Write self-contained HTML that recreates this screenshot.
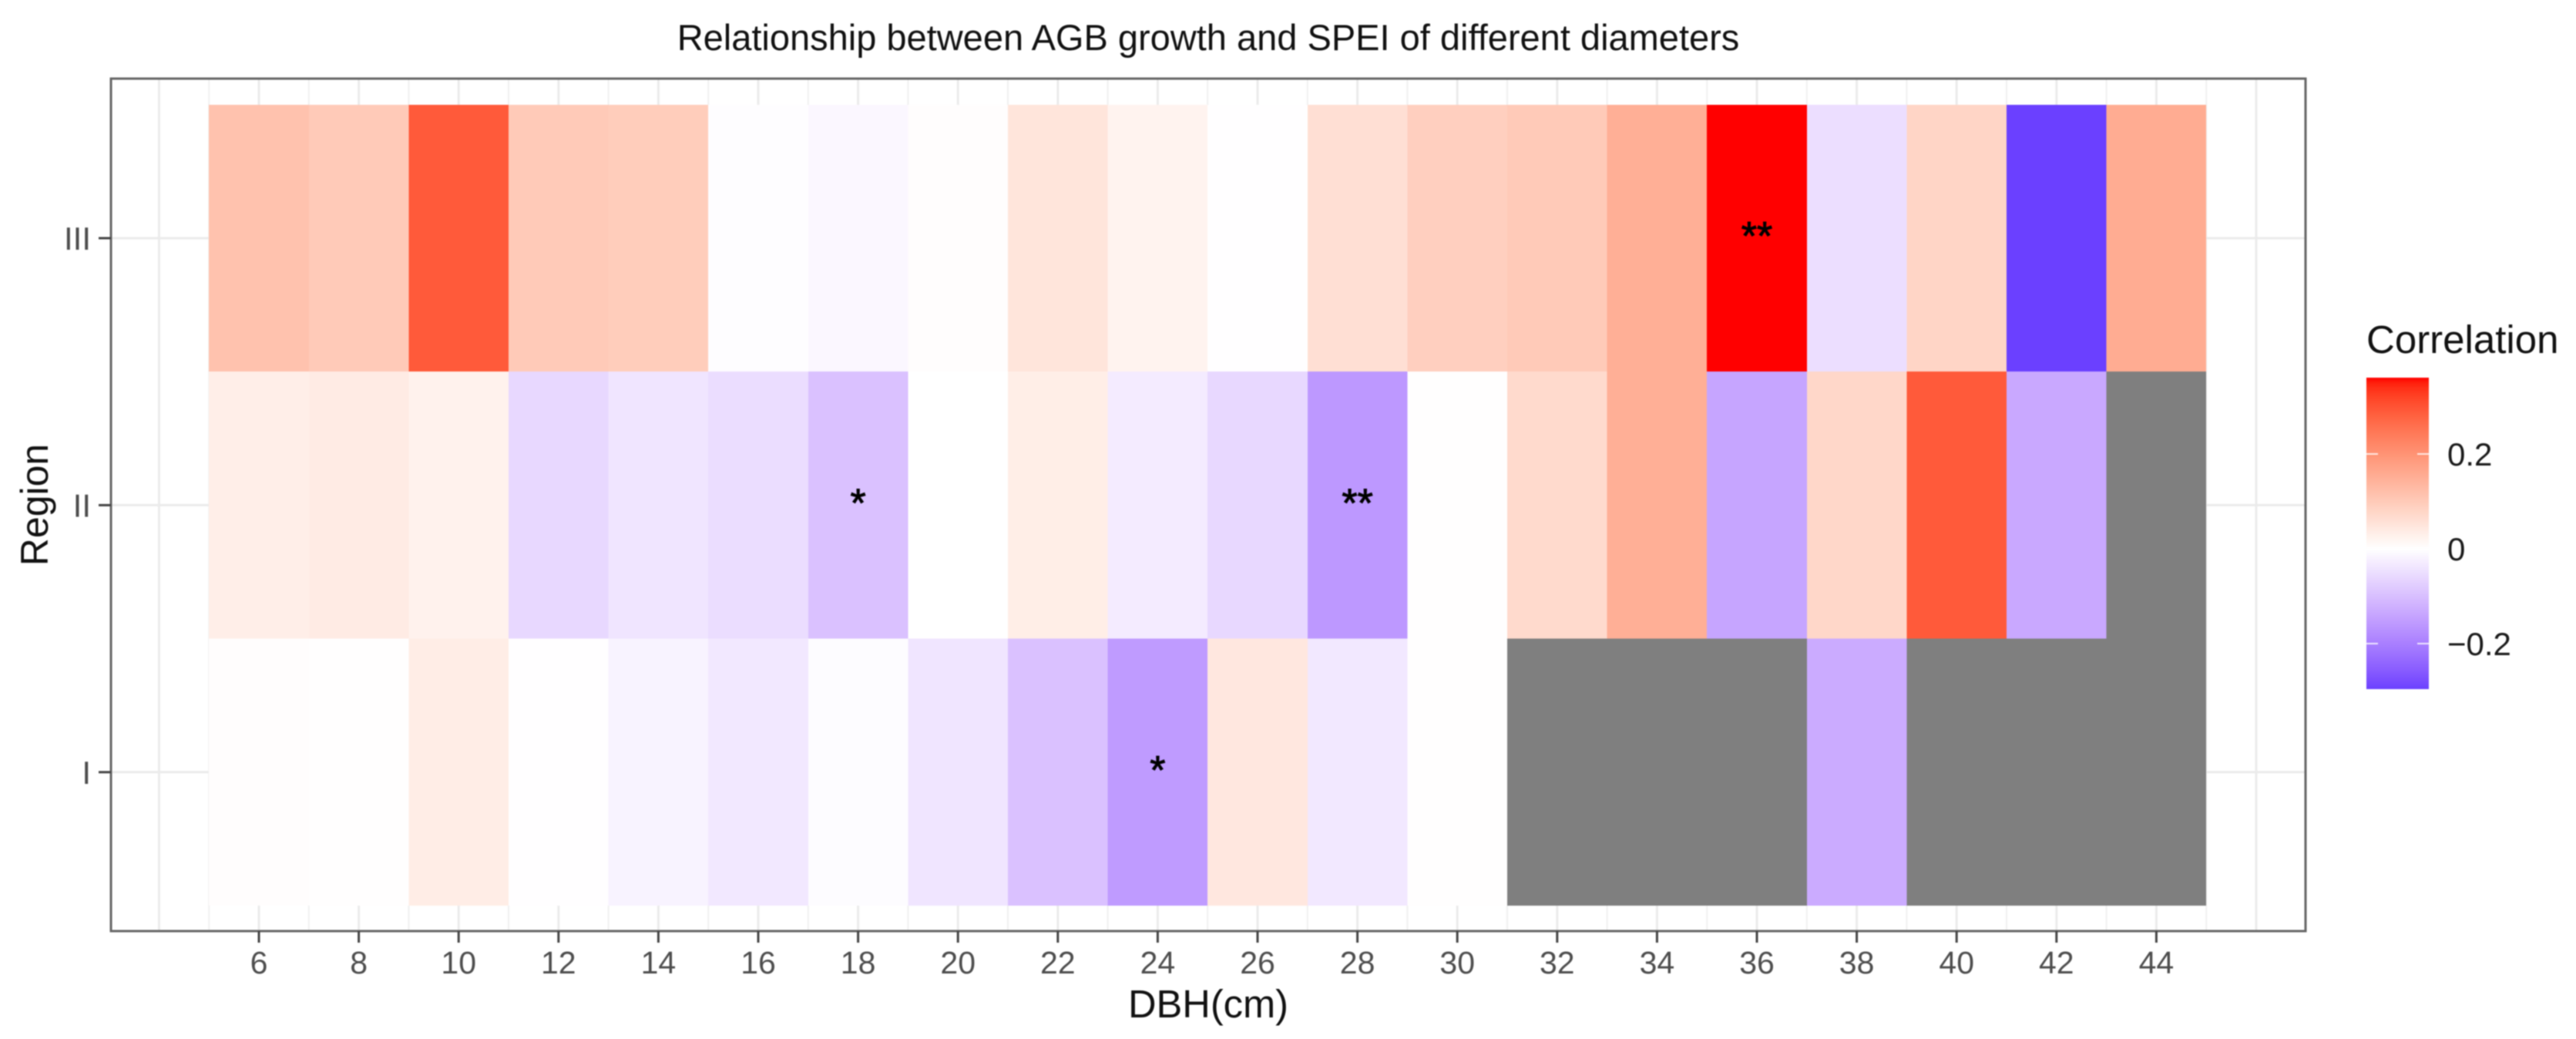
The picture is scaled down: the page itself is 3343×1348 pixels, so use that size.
<!DOCTYPE html>
<html lang="en">
<head>
<meta charset="utf-8">
<title>Relationship between AGB growth and SPEI of different diameters</title>
<style>
html,body{margin:0;padding:0;background:#fff;width:3343px;height:1348px;overflow:hidden}
svg{display:block;filter:blur(0.9px)}
text{font-family:"Liberation Sans",Arial,sans-serif}
</style>
</head>
<body>
<svg id="chart" xmlns="http://www.w3.org/2000/svg" width="3343" height="1348" viewBox="0 0 3343 1348">
  <rect x="0" y="0" width="3343" height="1348" fill="#ffffff"/>
  <text x="1568" y="65" font-size="47" text-anchor="middle" fill="#111">Relationship between AGB growth and SPEI of different diameters</text>
  <g id="grid"></g>
  <g id="cells" shape-rendering="crispEdges"></g>
  <g id="stars"></g>
  <rect x="144" y="102" width="2848" height="1106" fill="none" stroke="#666666" stroke-width="3"/>
  <g id="xaxis"></g>
  <g id="yaxis"></g>
  <text x="1568" y="1320" font-size="50.6" text-anchor="middle" fill="#111">DBH(cm)</text>
  <text transform="translate(62,655) rotate(-90)" font-size="50" text-anchor="middle" fill="#111">Region</text>
  <text x="3071" y="458" font-size="51" fill="#111">Correlation</text>
  <defs><linearGradient id="legend-gradient" x1="0" y1="0" x2="0" y2="1"></linearGradient></defs>
  <g id="legend"></g>
</svg>
<script>
// ---- data ----
const diameters = [6,8,10,12,14,16,18,20,22,24,26,28,30,32,34,36,38,40,42,44];
const regions = ["I","II","III"];
const valuesRegionI = [0.003,0.001,0.035,-0.001,-0.018,-0.035,-0.005,-0.040,-0.095,-0.155,0.045,-0.035,0.001,null,null,null,-0.130,null,null,null];
const valuesRegionII = [0.032,0.038,0.025,-0.060,-0.040,-0.052,-0.095,0.000,0.033,-0.030,-0.060,-0.160,0.002,0.070,0.150,-0.140,0.075,0.290,-0.135,null];
const valuesRegionIII = [0.115,0.100,0.290,0.100,0.095,-0.003,-0.012,0.003,0.050,0.022,-0.001,0.060,0.090,0.100,0.150,0.361,-0.050,0.080,-0.296,0.155];
const starsRegionI = ["","","","","","","","","","*","","","","","","","","","",""];
const starsRegionII = ["","","","","","","*","","","","","**","","","","","","","",""];
const starsRegionIII = ["","","","","","","","","","","","","","","","**","","","",""];
const gridMajorTicks = [4,6,8,10,12,14,16,18,20,22,24,26,28,30,32,34,36,38,40,42,44,46];
const gridMinorTicks = [5,7,9,11,13,15,17,19,21,23,25,27,29,31,33,35,37,39,41,43,45];
const legendTicks = [0.2,0,-0.2];
const legendTickLabels = ["0.2","0","\u22120.2"];

const seriesValues = [valuesRegionI, valuesRegionII, valuesRegionIII];
const seriesStars = [starsRegionI, starsRegionII, starsRegionIII];

// ---- scales ----
const SVG_NS = "http://www.w3.org/2000/svg";
function xScale(v){ return 336 + 64.8 * (v - 6); }
function yScale(i){ return 1001.8 - 346.4 * i; }
const cellHalfWidth = 1;
const cellHalfHeight = 173.2;
function legendY(v){ return 712 - v * 615; }

const allValues = seriesValues.flat().filter(function(v){ return v !== null; });
const valueMax = Math.max.apply(null, allValues);
const valueMin = Math.min.apply(null, allValues);
const absMax = Math.max(Math.abs(valueMax), Math.abs(valueMin));

function labToRgb(L,a,b){
  const fy=(L+16)/116, fx=fy+a/500, fz=fy-b/200;
  function inv(t){ return t>6/29 ? t*t*t : 3*(6/29)*(6/29)*(t-4/29); }
  const X=0.95047*inv(fx), Y=inv(fy), Z=1.08883*inv(fz);
  const r=3.2406*X-1.5372*Y-0.4986*Z, g=-0.9689*X+1.8758*Y+0.0415*Z, bl=0.0557*X-0.2040*Y+1.0570*Z;
  function gam(c){ c=Math.max(0,Math.min(1,c)); return Math.round(255*(c<=0.0031308?12.92*c:1.055*Math.pow(c,1/2.4)-0.055)); }
  return "rgb("+gam(r)+","+gam(g)+","+gam(bl)+")";
}
function fillColor(v){
  if(v===null) return "#7f7f7f";
  const t=Math.min(1,Math.abs(v)/absMax);
  const end = v>=0 ? [53.24,80.09,67.20] : [32.30,79.19,-107.86];
  return labToRgb(100+(end[0]-100)*t, end[1]*t, end[2]*t);
}
function make(parent, tag, attrs, txt){
  const el=document.createElementNS(SVG_NS,tag);
  for(const k in attrs){ el.setAttribute(k,attrs[k]); }
  if(txt!==undefined){ el.textContent=txt; }
  parent.appendChild(el);
  return el;
}

// ---- grid ----
const gridG=document.getElementById("grid");
gridMinorTicks.forEach(function(t){
  const el=make(gridG,"line",{x1:xScale(t),x2:xScale(t),y1:102,y2:1208,stroke:"#f0f0f0","stroke-width":2});
  
  
});
gridMajorTicks.forEach(function(t){
  const el=make(gridG,"line",{x1:xScale(t),x2:xScale(t),y1:102,y2:1208,stroke:"#ebebeb","stroke-width":3});
  
  
});
regions.forEach(function(r,i){
  const el=make(gridG,"line",{x1:144,x2:2992,y1:yScale(i),y2:yScale(i),stroke:"#ebebeb","stroke-width":3});
  
  
});

// ---- cells and significance marks ----
const cellsG=document.getElementById("cells");
const starsG=document.getElementById("stars");
regions.forEach(function(r,i){
  diameters.forEach(function(d,j){
    const v=seriesValues[i][j];
    const x0=xScale(d-cellHalfWidth), x1=xScale(d+cellHalfWidth);
    const cell=make(cellsG,"rect",{x:x0,y:yScale(i)-cellHalfHeight,width:x1-x0,height:2*cellHalfHeight,fill:fillColor(v)});
    
    
    const s=seriesStars[i][j];
    if(s){
      const star=make(starsG,"text",{x:xScale(d),y:yScale(i)+15,"font-size":52,"text-anchor":"middle",fill:"#000",stroke:"#000","stroke-width":1},s);
      
      
    }
  });
});

// ---- axes ----
const xG=document.getElementById("xaxis");
diameters.forEach(function(d){
  const tick=make(xG,"line",{x1:xScale(d),x2:xScale(d),y1:1208,y2:1223,stroke:"#444","stroke-width":3});
  
  
  const lab=make(xG,"text",{x:xScale(d),y:1263,"font-size":41,"text-anchor":"middle",fill:"#4d4d4d"},String(d));
  
  
});
const yG=document.getElementById("yaxis");
regions.forEach(function(r,i){
  const tick=make(yG,"line",{x1:128,x2:144,y1:yScale(i),y2:yScale(i),stroke:"#444","stroke-width":3});
  
  
  const lab=make(yG,"text",{x:118,y:yScale(i)+15,"font-size":42,"text-anchor":"end",fill:"#4d4d4d"},r);
  
  
});

// ---- legend ----
const grad=document.getElementById("legend-gradient");
const legendSteps=60;
for(let k=0;k<=legendSteps;k++){
  const f=k/legendSteps;
  const v=valueMax+(valueMin-valueMax)*f;
  make(grad,"stop",{offset:f,"stop-color":fillColor(v)});
}
const legG=document.getElementById("legend");
const legendBar=make(legG,"rect",{x:3071,y:legendY(valueMax),width:81,height:legendY(valueMin)-legendY(valueMax),fill:"url(#legend-gradient)"});


legendTicks.forEach(function(t,i){
  if(t!==0){
    const a=make(legG,"line",{x1:3071,x2:3086,y1:legendY(t),y2:legendY(t),stroke:"#ffffff","stroke-width":2,"stroke-opacity":0.8});
    
    
    const b=make(legG,"line",{x1:3137,x2:3152,y1:legendY(t),y2:legendY(t),stroke:"#ffffff","stroke-width":2,"stroke-opacity":0.8});
    
    
  }
  const lab=make(legG,"text",{x:3176,y:legendY(t)+15,"font-size":42,fill:"#1a1a1a"},legendTickLabels[i]);
  
  
});
</script>
</body>
</html>
